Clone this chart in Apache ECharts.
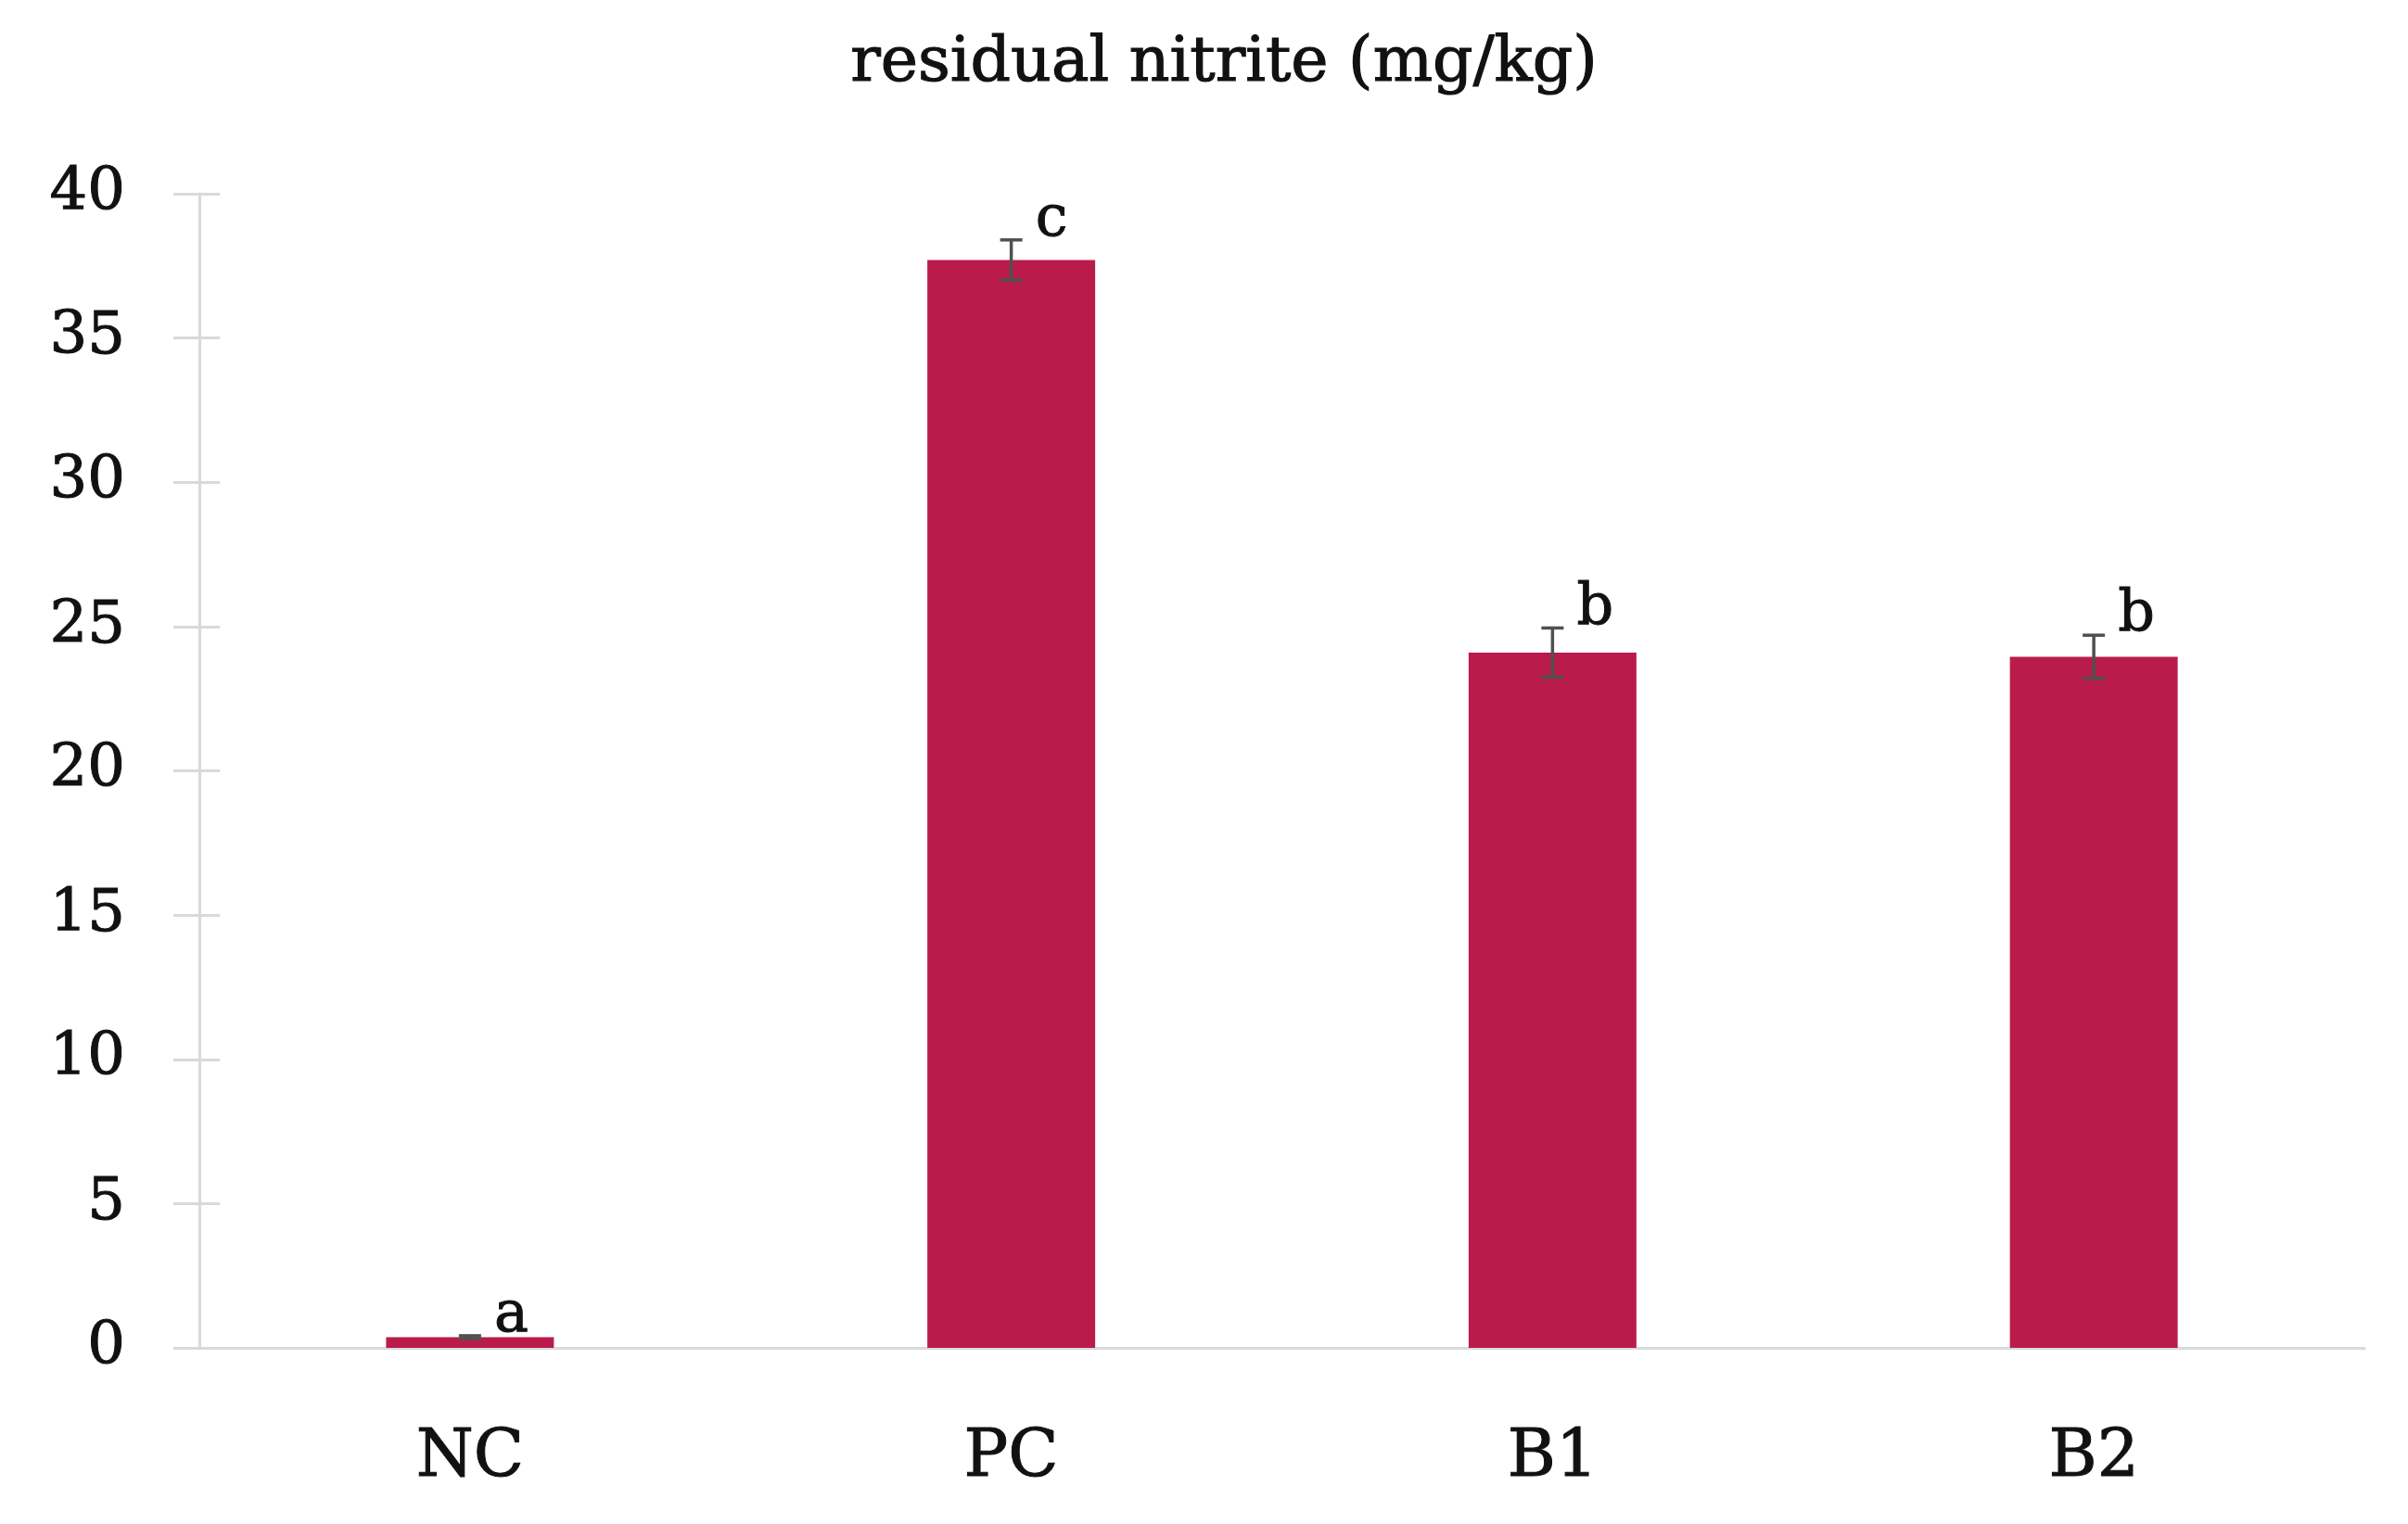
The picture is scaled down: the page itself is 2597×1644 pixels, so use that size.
<!DOCTYPE html>
<html>
<head>
<meta charset="utf-8">
<script src="https://cdn.jsdelivr.net/npm/echarts@6/dist/echarts.min.js"></script>
<style>
  html, body { margin: 0; padding: 0; background: #fff; }
  #chart { width: 2597px; height: 1644px; }
</style>
</head>
<body>
<div id="chart"></div>
<script>
// data
var categories = ['NC', 'PC', 'B1', 'B2']
var values = [0.37, 37.7, 24.1, 23.95]
var errors = [0.05, 0.7, 0.85, 0.75]
var letters = ['a', 'c', 'b', 'b']
var yTicks = { min: 0, max: 40, interval: 5 }

var FONT = 'DejaVu Serif'
var BAR = '#B91C4B'
var AXIS = '#D9D9D9'
var INK = '#111'

var chart = echarts.init(document.getElementById('chart'))

var errData = values.map(function (v, i) { return [i, v - errors[i], v + errors[i]] })

var option = {
  animation: false,
  title: {
    text: 'residual nitrite (mg/kg)',
    left: 1315,
    top: 30,
    textAlign: 'center',
    textStyle: {
      fontFamily: FONT, fontSize: 68, fontWeight: 'normal', color: INK,
      textBorderColor: INK, textBorderWidth: 1.2
    }
  },
  grid: { left: 215, right: 47, top: 209, bottom: 190 },
  xAxis: {
    type: 'category',
    data: categories,
    axisLine: { lineStyle: { color: AXIS, width: 3 } },
    axisTick: { show: false },
    axisLabel: {
      fontFamily: FONT, fontSize: 71, color: INK, margin: 84,
      textBorderColor: INK, textBorderWidth: 1
    }
  },
  yAxis: [{
    type: 'value',
    min: yTicks.min, max: yTicks.max, interval: yTicks.interval,
    splitLine: { show: false },
    axisLine: { show: true, lineStyle: { color: AXIS, width: 3 } },
    axisTick: { show: true, length: 28, lineStyle: { color: AXIS, width: 3 } },
    axisLabel: {
      fontFamily: FONT, fontSize: 64, color: INK, margin: 80,
      textBorderColor: INK, textBorderWidth: 1
    }
  }, {
    // second copy only for the inside half of the cross ticks
    type: 'value', position: 'left',
    min: yTicks.min, max: yTicks.max, interval: yTicks.interval,
    splitLine: { show: false },
    axisLine: { show: false },
    axisLabel: { show: false },
    axisTick: { show: true, inside: true, length: 22, lineStyle: { color: AXIS, width: 3 } }
  }],
  series: [{
    type: 'bar',
    data: values,
    barWidth: '31%',
    itemStyle: { color: BAR },
    z: 2
  }, {
    type: 'custom',
    data: errData,
    z: 5,
    renderItem: function (params, api) {
      var i = api.value(0)
      var lo = api.coord([i, api.value(1)])
      var hi = api.coord([i, api.value(2)])
      var cap = 12
      var style = { stroke: '#505050', lineWidth: 3.5 }
      return {
        type: 'group',
        children: [
          { type: 'line', shape: { x1: hi[0], y1: lo[1], x2: hi[0], y2: hi[1] }, style: style },
          { type: 'line', shape: { x1: hi[0] - cap, y1: hi[1], x2: hi[0] + cap, y2: hi[1] }, style: style },
          { type: 'line', shape: { x1: lo[0] - cap, y1: lo[1], x2: lo[0] + cap, y2: lo[1] }, style: style },
          {
            type: 'text',
            x: hi[0] + 26, y: hi[1] + 10,
            style: {
              text: letters[i], fill: INK,
              font: '62px "' + FONT + '"',
              stroke: INK, lineWidth: 1,
              textAlign: 'left', textVerticalAlign: 'bottom'
            }
          }
        ]
      }
    }
  }]
}

chart.setOption(option)
</script>
</body>
</html>
